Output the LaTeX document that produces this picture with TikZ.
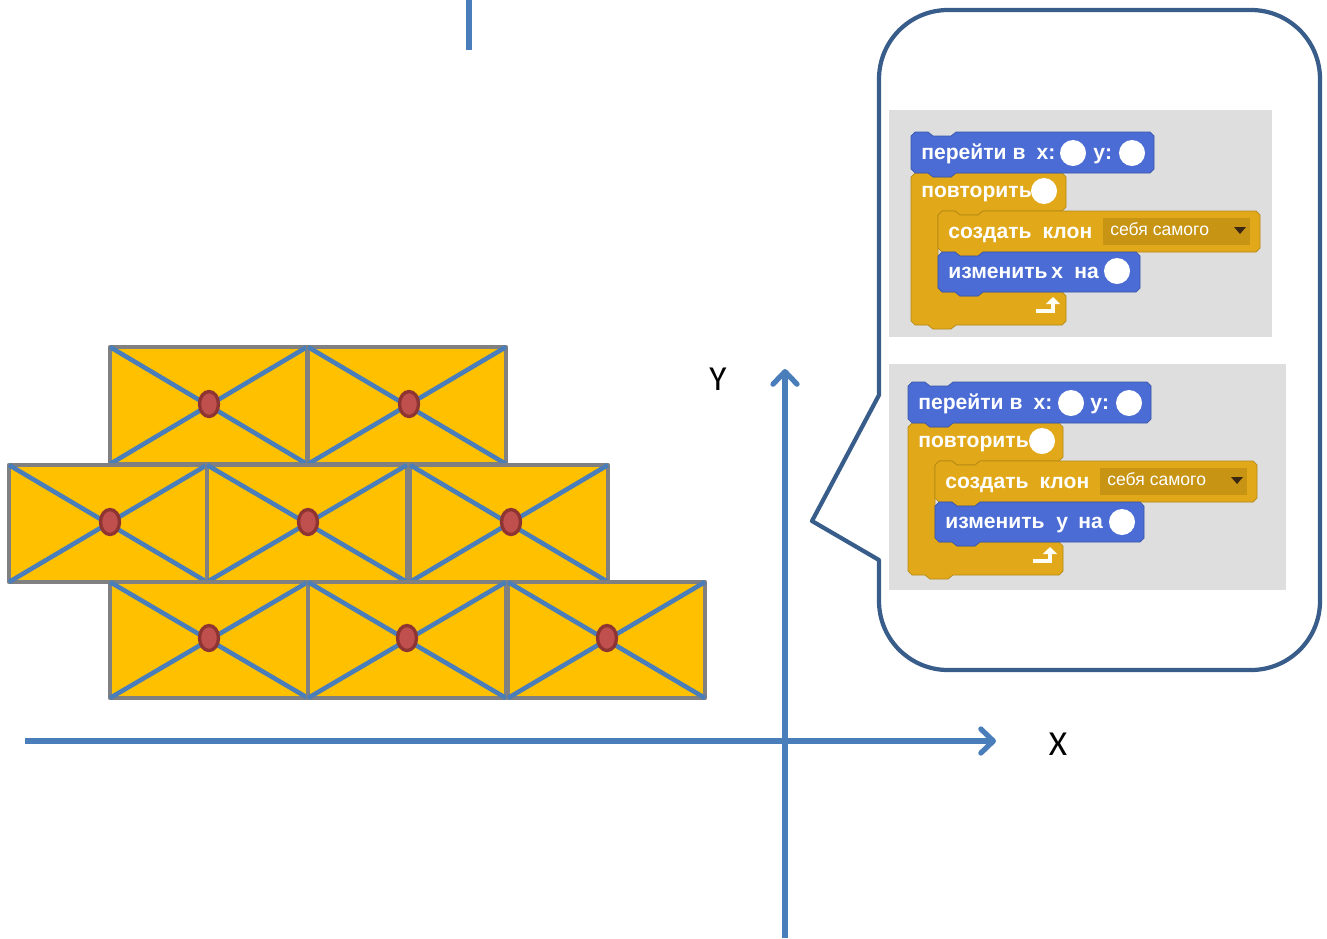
\documentclass[tikz,border=0pt]{standalone}
\usepackage{fontspec}
\setmainfont{Liberation Sans}
\newfontfamily\axisfont{Carlito}
\usetikzlibrary{arrows.meta}

\definecolor{brickfill}{RGB}{255,192,0}
\definecolor{brickline}{RGB}{128,128,128}
\definecolor{axisblue}{RGB}{74,126,187}
\definecolor{nailfill}{RGB}{192,80,77}
\definecolor{nailrim}{RGB}{142,52,50}
\definecolor{bubbleblue}{RGB}{56,93,138}
\definecolor{panelgray}{RGB}{221,222,221}
\definecolor{motionblue}{RGB}{74,108,212}
\definecolor{controlgold}{RGB}{225,169,26}
\definecolor{menugold}{RGB}{199,148,20}

\begin{document}
\begin{tikzpicture}[x=0.02cm,y=-0.02cm,
	brick/.style={draw=brickline,fill=brickfill,line width=2.7pt,line join=round},
	diag/.style={draw=axisblue,line width=2.6pt},
	nail/.style={draw=nailrim,fill=nailfill,line width=1.9pt},
	axis/.style={draw=axisblue,line width=3pt,-{Straight Barb[length=2.5mm,width=4.8mm,line cap=round,line join=round]}},
	axislabel/.style={font=\axisfont\fontsize{20}{20}\selectfont,inner sep=0pt},
	motion/.style={fill=motionblue,draw=motionblue!80!black,line width=0.4pt},
	control/.style={fill=controlgold,draw=controlgold!80!black,line width=0.4pt},
	blocktext/.style={text=white,font=\fontsize{12}{12}\selectfont\bfseries,inner sep=0pt,anchor=base west},
	menutext/.style={text=white,font=\fontsize{10}{10}\selectfont,inner sep=0pt,anchor=base west},
	slot/.style={fill=white},
	loopback/.style={draw=white!95!yellow,line width=2.2pt,-{Triangle[length=1.4mm,width=2.8mm]}}]
	\useasboundingbox (0,0) rectangle (1327,938);

	% top line
	\coordinate (topA) at (469,0);
	\coordinate (topB) at (469,50);
	\draw [axisblue, line width=3pt] (topA) -- (topB);

	% wall of bricks, row by row
	\draw[brick] (110,347) rectangle (307,464); \draw[diag] (110,347) -- (307,464) (307,347) -- (110,464);
	\draw[brick] (308,347) rectangle (506,464); \draw[diag] (308,347) -- (506,464) (506,347) -- (308,464);
	\draw[brick] (9,465) rectangle (207,582); \draw[diag] (9,465) -- (207,582) (207,465) -- (9,582);
	\draw[brick] (207,465) rectangle (407,582); \draw[diag] (207,465) -- (407,582) (407,465) -- (207,582);
	\draw[brick] (410,465) rectangle (608,582); \draw[diag] (410,465) -- (608,582) (608,465) -- (410,582);
	\draw[brick] (110,582) rectangle (308,698); \draw[diag] (110,582) -- (308,698) (308,582) -- (110,698);
	\draw[brick] (308,582) rectangle (506,698); \draw[diag] (308,582) -- (506,698) (506,582) -- (308,698);
	\draw[brick] (508,582) rectangle (705,698); \draw[diag] (508,582) -- (705,698) (705,582) -- (508,698);
	\draw[nail] (209,404) ellipse [x radius=0.19cm, y radius=0.25cm];
	\draw[nail] (409,404) ellipse [x radius=0.19cm, y radius=0.25cm];
	\draw[nail] (110,522) ellipse [x radius=0.19cm, y radius=0.25cm];
	\draw[nail] (308,522) ellipse [x radius=0.19cm, y radius=0.25cm];
	\draw[nail] (511,522) ellipse [x radius=0.19cm, y radius=0.25cm];
	\draw[nail] (209,638) ellipse [x radius=0.19cm, y radius=0.25cm];
	\draw[nail] (407,638) ellipse [x radius=0.19cm, y radius=0.25cm];
	\draw[nail] (607,638) ellipse [x radius=0.19cm, y radius=0.25cm];

	% axes
	\coordinate (xfrom) at (25,741);
	\coordinate (xto) at (996,741);
	\coordinate (yfrom) at (785,938);
	\coordinate (yto) at (785,369);
	\draw[axis] (xfrom) -- (xto);
	\draw[axis] (yfrom) -- (yto);
	\node[axislabel] (xlabel) at (1058,744) {X};
	\node[axislabel] (ylabel) at (718,379) {Y};

	% speech bubble
	\draw[bubbleblue, line width=2.4pt, line join=round] (879,395) -- (812,521) -- (879,560)
		[rounded corners=1.38cm] -- (879,670) -- (1320,670) -- (1320,10) -- (879,10) [sharp corners] -- cycle;

	% first script: move along x
	\fill[panelgray] (889,110) rectangle (1272,337);
	\draw[control] (911,177) -- (915,173) -- (928,173) -- (933,177) -- (951,177) -- (956,173) -- (1062,173) -- (1066,177) -- (1066,207) -- (1062,211) -- (983,211) -- (978,215) -- (960,215) -- (955,211) -- (942,211) -- (938,215) -- (938,288) -- (942,292) -- (955,292) -- (960,296) -- (978,296) -- (983,292) -- (1062,292) -- (1066,296) -- (1066,321) -- (1062,325) -- (956,325) -- (951,329) -- (933,329) -- (928,325) -- (915,325) -- (911,321) -- cycle;
	\draw[motion] (911,136) -- (915,132) -- (928,132) -- (933,136) -- (951,136) -- (956,132) -- (1150,132) -- (1154,136) -- (1154,169) -- (1150,173) -- (956,173) -- (951,177) -- (933,177) -- (928,173) -- (915,173) -- (911,169) -- cycle;
	\draw[control] (938,215) -- (942,211) -- (955,211) -- (960,215) -- (978,215) -- (983,211) -- (1256,211) -- (1260,215) -- (1260,248) -- (1256,252) -- (983,252) -- (978,256) -- (960,256) -- (955,252) -- (942,252) -- (938,248) -- cycle;
	\draw[motion] (938,256) -- (942,252) -- (955,252) -- (960,256) -- (978,256) -- (983,252) -- (1136,252) -- (1140,256) -- (1140,288) -- (1136,292) -- (983,292) -- (978,296) -- (960,296) -- (955,292) -- (942,292) -- (938,288) -- cycle;
	\fill[menugold] (1103,218) rectangle (1250,245);
	\fill[black!70!brown] (1234,227) -- (1246,227) -- (1240,234) -- cycle;
	\node[blocktext] (goA) at (921,159) {перейти в\hspace{3pt} x:};
	\node[blocktext] (goyA) at (1093,159) {y:};
	\fill[slot] (1073,153) circle [radius=0.26cm];
	\fill[slot] (1132,153) circle [radius=0.26cm];
	\node[blocktext] (repA) at (921,197) {повторить};
	\fill[slot] (1044,191) circle [radius=0.26cm];
	\node[blocktext] (cloneA) at (948,238) {создать\hspace{3pt} клон};
	\node[menutext] (selfA) at (1110,235) {себя самого};
	\node[blocktext] (chgA) at (948,278) {изменить};
	\node[blocktext] (chgxA) at (1051,278) {x};
	\node[blocktext] (byA) at (1074,278) {на};
	\fill[slot] (1117,271) circle [radius=0.26cm];
	\coordinate (bendA) at (1053,311);
	\draw[loopback] (1036,311) -- (bendA) -- (1053,297);

	% second script: move along y
	\fill[panelgray] (889,364) rectangle (1286,590);
	\draw[control] (908,427) -- (912,423) -- (925,423) -- (930,427) -- (948,427) -- (953,423) -- (1059,423) -- (1063,427) -- (1063,457) -- (1059,461) -- (980,461) -- (975,465) -- (957,465) -- (952,461) -- (939,461) -- (935,465) -- (935,538) -- (939,542) -- (952,542) -- (957,546) -- (975,546) -- (980,542) -- (1059,542) -- (1063,546) -- (1063,571) -- (1059,575) -- (953,575) -- (948,579) -- (930,579) -- (925,575) -- (912,575) -- (908,571) -- cycle;
	\draw[motion] (908,386) -- (912,382) -- (925,382) -- (930,386) -- (948,386) -- (953,382) -- (1147,382) -- (1151,386) -- (1151,419) -- (1147,423) -- (953,423) -- (948,427) -- (930,427) -- (925,423) -- (912,423) -- (908,419) -- cycle;
	\draw[control] (935,465) -- (939,461) -- (952,461) -- (957,465) -- (975,465) -- (980,461) -- (1253,461) -- (1257,465) -- (1257,498) -- (1253,502) -- (980,502) -- (975,506) -- (957,506) -- (952,502) -- (939,502) -- (935,498) -- cycle;
	\draw[motion] (935,506) -- (939,502) -- (952,502) -- (957,506) -- (975,506) -- (980,502) -- (1140,502) -- (1144,506) -- (1144,538) -- (1140,542) -- (980,542) -- (975,546) -- (957,546) -- (952,542) -- (939,542) -- (935,538) -- cycle;
	\fill[menugold] (1100,468) rectangle (1247,495);
	\fill[black!70!brown] (1231,477) -- (1243,477) -- (1237,484) -- cycle;
	\node[blocktext] (goB) at (918,409) {перейти в\hspace{3pt} x:};
	\node[blocktext] (goyB) at (1090,409) {y:};
	\fill[slot] (1071,403) circle [radius=0.26cm];
	\fill[slot] (1129,403) circle [radius=0.26cm];
	\node[blocktext] (repB) at (918,447) {повторить};
	\fill[slot] (1042,441) circle [radius=0.26cm];
	\node[blocktext] (cloneB) at (945,488) {создать\hspace{3pt} клон};
	\node[menutext] (selfB) at (1107,485) {себя самого};
	\node[blocktext] (chgB) at (945,528) {изменить};
	\node[blocktext] (chgyB) at (1056,528) {y};
	\node[blocktext] (byB) at (1078,528) {на};
	\fill[slot] (1122,522) circle [radius=0.26cm];
	\coordinate (bendB) at (1050,561);
	\draw[loopback] (1033,561) -- (bendB) -- (1050,547);
\end{tikzpicture}
\end{document}
